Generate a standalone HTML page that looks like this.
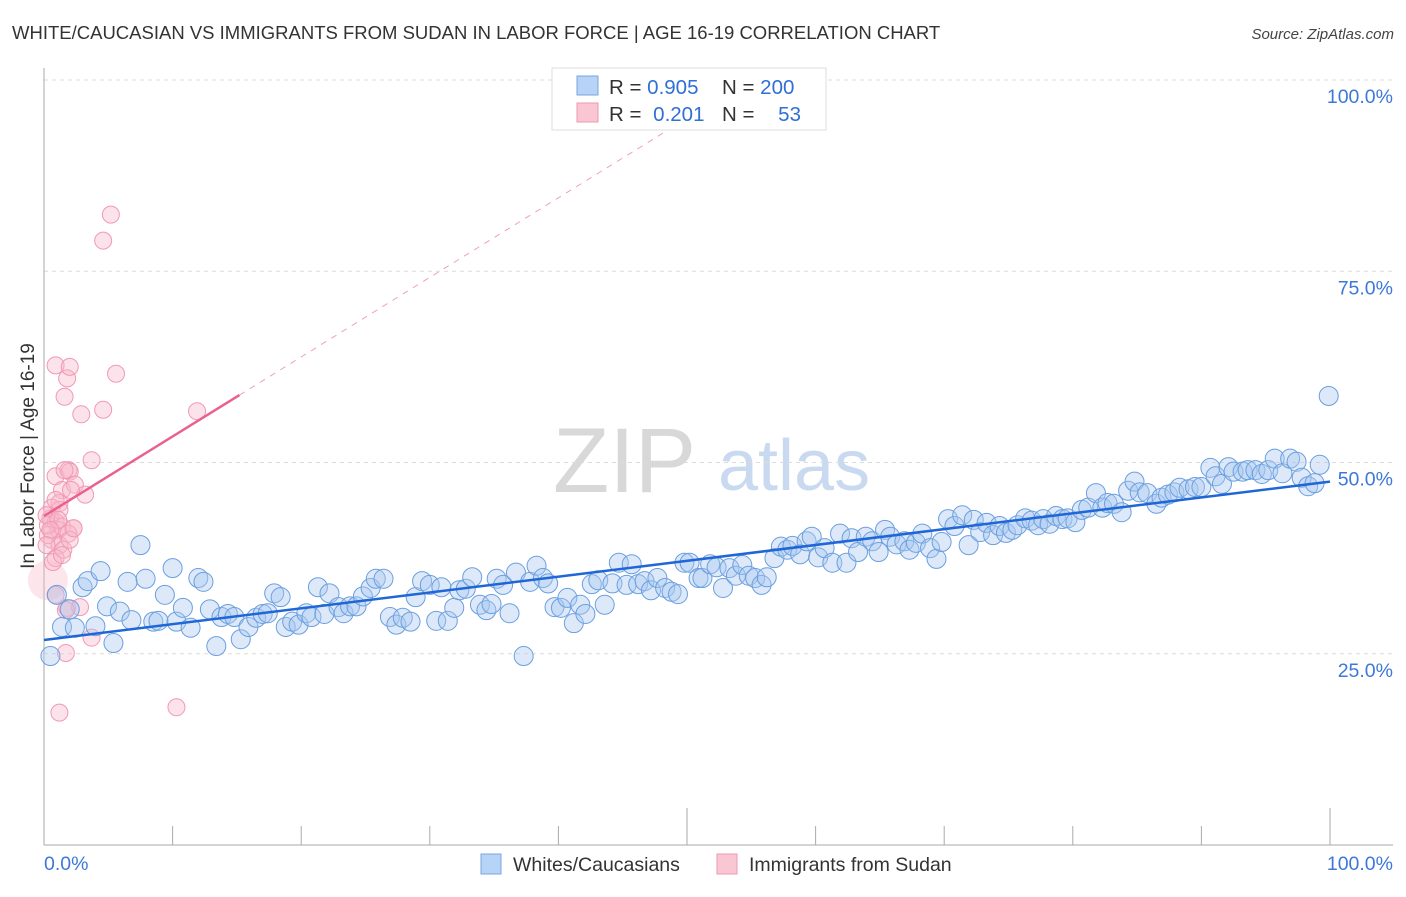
<!DOCTYPE html>
<html><head><meta charset="utf-8"><style>
body{margin:0;background:#fff;font-family:"Liberation Sans",sans-serif;}
svg text{font-family:"Liberation Sans",sans-serif;}
</style></head><body>
<svg id="chart" width="1406" height="892" viewBox="0 0 1406 892" xmlns="http://www.w3.org/2000/svg">
<text x="12" y="39" font-size="18.5" fill="#333">WHITE/CAUCASIAN VS IMMIGRANTS FROM SUDAN IN LABOR FORCE | AGE 16-19 CORRELATION CHART</text>
<text x="1394" y="39" font-size="15" fill="#444" font-style="italic" text-anchor="end">Source: ZipAtlas.com</text>
<g>
<text x="553" y="492" font-size="92" fill="#d8d8d8" font-family="Liberation Serif, serif">ZIP</text>
<text x="718" y="490" font-size="72" fill="#c9daf0">atlas</text>
</g>
<g id="grid"></g>
<g id="axes"></g>
<g id="pinkpts"></g>
<g id="bluepts"></g>
<g id="trends"></g>
<text transform="translate(34,456) rotate(-90)" font-size="19" fill="#333" text-anchor="middle">In Labor Force | Age 16-19</text>
<g>
<rect x="552" y="68" width="274" height="62" fill="#fff" stroke="#ddd"/>
<rect x="577" y="76" width="21" height="19" fill="#b7d3f5" stroke="#7aa6e0"/>
<rect x="577" y="103" width="21" height="19" fill="#fac6d4" stroke="#ee9ab2"/>
<text x="609" y="94" font-size="20.5" fill="#333">R = <tspan fill="#2f6fd6">0.905</tspan></text>
<text x="722" y="94" font-size="20.5" fill="#333">N = <tspan fill="#2f6fd6">200</tspan></text>
<text x="609" y="121" font-size="20.5" fill="#333">R = <tspan fill="#2f6fd6" dx="6">0.201</tspan></text>
<text x="722" y="121" font-size="20.5" fill="#333">N = <tspan fill="#2f6fd6" dx="18">53</tspan></text>
</g>
<g>
<rect x="481" y="854" width="20" height="20" fill="#b7d3f5" stroke="#7aa6e0"/>
<text x="513" y="871" font-size="19.5" fill="#333">Whites/Caucasians</text>
<rect x="717" y="854" width="20" height="20" fill="#fac6d4" stroke="#ee9ab2"/>
<text x="749" y="871" font-size="19.5" fill="#333">Immigrants from Sudan</text>
</g>
</svg>
<script>
const yTicks=[25,50,75,100];
const yTickLabels=["25.0%","50.0%","75.0%","100.0%"];
const xTickLabels=["0.0%","100.0%"];
const blueX=[0.5,1.0,1.4,2.0,2.4,3.0,3.4,4.0,4.4,4.9,5.4,5.9,6.5,6.8,7.5,7.9,8.5,8.9,9.4,10.0,10.3,10.8,11.4,12.0,12.4,12.9,13.4,13.8,14.3,14.8,15.3,15.9,16.5,17.0,17.4,17.9,18.4,18.8,19.3,19.8,20.4,20.8,21.3,21.8,22.2,22.9,23.3,23.8,24.3,24.8,25.4,25.8,26.4,26.9,27.4,27.9,28.5,28.9,29.4,30.0,30.5,30.9,31.4,31.9,32.3,32.8,33.3,33.9,34.4,34.8,35.2,35.7,36.2,36.7,37.3,37.8,38.3,38.8,39.2,39.7,40.2,40.7,41.2,41.7,42.1,42.6,43.1,43.6,44.2,44.7,45.3,45.7,46.2,46.7,47.2,47.7,48.3,48.8,49.3,49.8,50.2,50.9,51.2,51.8,52.3,52.8,53.3,53.8,54.3,54.8,55.3,55.8,56.2,56.8,57.3,57.8,58.2,58.8,59.3,59.7,60.2,60.7,61.3,61.9,62.4,62.8,63.3,63.9,64.4,64.9,65.4,65.8,66.3,66.9,67.3,67.8,68.3,68.9,69.4,69.8,70.3,70.8,71.4,71.9,72.3,72.8,73.3,73.8,74.3,74.8,75.3,75.7,76.3,76.8,77.3,77.7,78.2,78.7,79.2,79.6,80.2,80.7,81.2,81.8,82.3,82.7,83.2,83.8,84.3,84.8,85.2,85.8,86.5,86.9,87.4,87.9,88.3,89.0,89.5,90.0,90.7,91.1,91.6,92.1,92.5,93.2,93.6,94.2,94.7,95.2,95.7,96.3,96.9,97.4,97.8,98.3,98.8,99.2,99.9];
const blueY=[24.7,32.7,28.5,30.8,28.4,33.7,34.5,28.6,35.8,31.2,26.4,30.5,34.4,29.4,39.2,34.8,29.2,29.3,32.7,36.2,29.2,31.0,28.4,34.9,34.4,30.8,26.0,29.8,30.2,29.8,26.9,28.5,29.7,30.2,30.3,32.9,32.4,28.5,29.2,28.8,30.3,29.8,33.7,30.2,32.9,31.1,30.3,31.2,31.2,32.5,33.6,34.8,34.8,29.8,28.8,29.7,29.2,32.4,34.5,34.0,29.3,33.7,29.3,31.0,33.3,33.5,35.0,31.4,30.7,31.5,34.8,34.0,30.3,35.6,24.7,34.4,36.5,34.9,34.2,31.1,31.0,32.3,29.0,31.4,30.2,34.1,34.6,31.4,34.2,36.9,34.0,36.7,34.1,34.5,33.3,34.9,33.6,33.1,32.8,36.9,36.9,34.9,34.9,36.7,36.3,33.6,36.2,35.2,36.6,35.2,34.9,34.0,35.0,37.5,39.0,38.6,39.1,38.0,39.7,40.3,37.6,38.8,36.9,40.7,36.9,40.1,38.3,40.3,39.7,38.3,41.2,40.3,39.3,39.7,38.6,39.5,40.7,38.8,37.4,39.6,42.6,41.7,43.1,39.2,42.5,40.9,42.1,40.5,41.7,40.8,41.2,41.8,42.7,42.4,41.8,42.6,42.0,43.0,42.6,42.7,42.2,43.8,44.1,46.0,44.1,44.7,44.6,43.5,46.3,47.5,46.1,46.0,44.6,45.4,45.8,46.1,46.7,46.5,46.8,46.8,49.3,48.2,47.2,49.4,48.8,48.8,49.0,49.0,48.5,49.0,50.5,48.6,50.5,50.1,48.0,46.9,47.3,49.7,58.7];
const pinkX=[0.9,1.8,1.6,2.0,2.9,4.6,5.2,5.6,11.9,4.6,3.7,0.9,1.9,2.0,1.4,2.4,1.2,3.2,0.6,0.5,0.9,1.1,1.4,2.3,1.9,0.6,1.2,1.5,0.9,0.7,1.4,2.0,0.9,1.8,2.8,0.3,0.3,0.2,1.2,1.6,2.1,3.7,1.7,1.2,10.3,1.1,0.5,0.2,0.9,2.3,1.7];
const pinkY=[62.7,61.0,58.6,62.5,56.3,79.0,82.4,61.6,56.7,56.9,50.3,48.2,49.0,48.8,46.4,47.1,44.7,45.8,44.1,42.7,42.2,41.2,41.6,41.4,40.7,39.9,39.2,38.6,37.5,37.0,37.9,39.9,32.7,31.0,31.1,40.5,41.8,43.1,43.8,49.0,46.4,27.1,25.1,17.3,18.0,42.5,41.2,39.2,45.1,41.4,30.7];
const blueTrend=[26.8,0.207];   // intercept, slope
const pinkTrend=[43.0,1.04];    // intercept, slope
const pinkSolidEnd=15.2;
const NS="http://www.w3.org/2000/svg";
const X0=44,X1=1330,Y0=845,Y100=80;
function sx(v){return X0+(X1-X0)*v/100;}
function sy(v){return Y0-(Y0-Y100)*v/100;}
function mk(tag,attrs,parent){const e=document.createElementNS(NS,tag);for(const k in attrs)e.setAttribute(k,attrs[k]);parent.appendChild(e);return e;}
const grid=document.getElementById('grid');
yTicks.forEach((t,i)=>{
  const l=mk('line',{x1:X0,x2:1393,y1:sy(t),y2:sy(t),stroke:'#dcdcdc','stroke-dasharray':'4,4'},grid);
  
  
  const tx=mk('text',{x:1393,y:sy(t)+23,'font-size':19.5,fill:'#3d78d8','text-anchor':'end'},grid);
  tx.textContent=yTickLabels[i];
  
  
});
const axes=document.getElementById('axes');
const ya=mk('line',{x1:X0,x2:X0,y1:68,y2:Y0,stroke:'#aaa'},axes);


const xa=mk('line',{x1:X0,x2:1393,y1:Y0,y2:Y0,stroke:'#aaa'},axes);


for(let i=1;i<=10;i++){
  const tk=mk('line',{x1:sx(i*10),x2:sx(i*10),y1:(i==5||i==10)?808:826,y2:Y0,stroke:'#aaa'},axes);
  
  
}
[[0,'start',X0],[100,'end',1393]].forEach((d,i)=>{
  const t=mk('text',{x:d[2],y:870,'font-size':19.5,fill:'#3d78d8','text-anchor':d[1]},axes);
  t.textContent=xTickLabels[i];
  
  
});
const pp=document.getElementById('pinkpts');
const big=mk('circle',{cx:sx(0.3),cy:sy(34.6),r:20,fill:'rgba(248,180,200,0.35)'},pp);


pinkX.forEach((x,i)=>{
  const c=mk('circle',{cx:sx(x),cy:sy(pinkY[i]),r:8.5,fill:'rgba(248,182,202,0.4)',stroke:'#f09ab4','stroke-width':1},pp);
  
  
});
const bp=document.getElementById('bluepts');
blueX.forEach((x,i)=>{
  const c=mk('circle',{cx:sx(x),cy:sy(blueY[i]),r:9.5,fill:'rgba(170,200,240,0.4)',stroke:'#6a9fe0','stroke-width':1},bp);
  
  
});
const tr=document.getElementById('trends');
const bl=mk('line',{x1:sx(0),y1:sy(blueTrend[0]),x2:sx(100),y2:sy(blueTrend[0]+blueTrend[1]*100),stroke:'#1f66d6','stroke-width':2.5},tr);


const pend=(100-pinkTrend[0])/pinkTrend[1];
const pd=mk('line',{x1:sx(pinkSolidEnd),y1:sy(pinkTrend[0]+pinkTrend[1]*pinkSolidEnd),x2:sx(pend),y2:sy(100),stroke:'#f0a0b8','stroke-width':1,'stroke-dasharray':'6,6'},tr);


const pl=mk('line',{x1:sx(0),y1:sy(pinkTrend[0]),x2:sx(pinkSolidEnd),y2:sy(pinkTrend[0]+pinkTrend[1]*pinkSolidEnd),stroke:'#ea6090','stroke-width':2.5},tr);


</script>
</body></html>
